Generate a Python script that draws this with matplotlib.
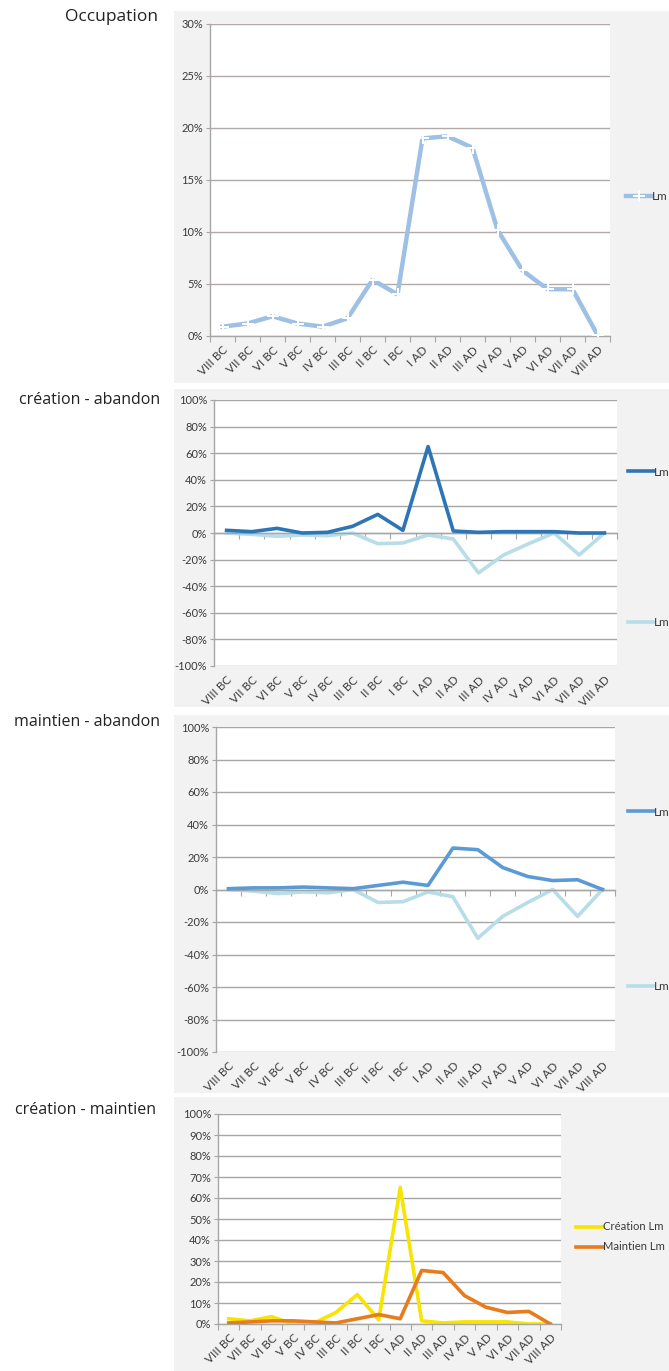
import numpy as np
import matplotlib
matplotlib.use("Agg")
import matplotlib.pyplot as plt
from matplotlib.patches import Rectangle
from matplotlib.ticker import FuncFormatter

categories = ["VIII BC", "VII BC", "VI BC", "V BC", "IV BC", "III BC", "II BC", "I BC",
              "I AD", "II AD", "III AD", "IV AD", "V AD", "VI AD", "VII AD", "VIII AD"]

occupation = [0.9, 1.2, 1.9, 1.2, 0.9, 1.7, 5.4, 4.0, 19.0, 19.2, 18.1, 10.2, 6.3, 4.5, 4.5, 0.1]
creation = [2.0, 1.0, 3.5, 0.0, 0.5, 5.0, 14.0, 2.0, 65.0, 1.5, 0.5, 1.0, 1.0, 1.0, 0.0, 0.0]
abandon = [0.0, -1.0, -2.5, -1.5, -2.0, 0.0, -8.0, -7.5, -1.5, -4.5, -30.0, -16.5, -8.0, 0.0, -16.5, 0.0]
maintien = [0.5, 1.0, 1.0, 1.5, 1.0, 0.5, 2.5, 4.5, 2.5, 25.5, 24.5, 13.5, 8.0, 5.5, 6.0, 0.0]
creation_y = [2.5, 1.5, 3.5, 0.0, 0.5, 5.5, 14.0, 2.0, 65.0, 1.5, 0.5, 1.0, 1.0, 1.0, 0.0, 0.0]
maintien_o = [0.5, 1.0, 1.5, 1.5, 1.0, 0.5, 2.5, 4.5, 2.5, 25.5, 24.5, 13.5, 8.0, 5.5, 6.0, 0.0]

titles = ["Occupation", "création - abandon", "maintien - abandon", "création - maintien"]

W, H = 669, 1371
fig = plt.figure(figsize=(W / 100, H / 100), dpi=100)
fig.patch.set_facecolor("white")

TICKFONT = "Lato"
TITLEFONT = "Open Sans"
GRID = "#a6a6a6"
TXT = "#3a3a3a"

def fbox(l, t, r, b):
    return [l / W, 1 - b / H, (r - l) / W, (b - t) / H]

# grey backgrounds
for (l, t, r, b) in [(174, 11, 669, 383), (174, 389, 669, 707), (174, 715, 669, 1093), (174, 1097, 669, 1371)]:
    fig.patches.append(Rectangle((l / W, 1 - b / H), (r - l) / W, (b - t) / H,
                                 transform=fig.transFigure, facecolor="#f2f2f2",
                                 edgecolor="none", zorder=-5))

x = np.arange(len(categories))
pct = FuncFormatter(lambda v, p: f"{v:.0f}%")

def setup(ax, ylim, ystep, zero_axis, gridcolor=GRID):
    ax.set_zorder(2)
    ax.set_facecolor("white")
    ax.set_xlim(-0.5, len(categories) - 0.5)
    ax.set_ylim(*ylim)
    ax.set_yticks(np.arange(ylim[0], ylim[1] + 0.1, ystep))
    ax.yaxis.set_major_formatter(pct)
    ax.grid(axis="y", color=gridcolor, linewidth=1.0)
    ax.set_axisbelow(True)
    for s in ["top", "right"]:
        ax.spines[s].set_visible(False)
    ax.spines["left"].set_color(GRID)
    ax.spines["bottom"].set_color(GRID)
    ax.spines["left"].set_linewidth(1.0)
    ax.spines["bottom"].set_linewidth(1.0)
    if zero_axis:
        ax.spines["bottom"].set_position(("data", 0))
    ax.set_xticks(np.arange(-0.5, len(categories), 1.0))
    ax.tick_params(axis="x", length=4, color=GRID, labelbottom=False, direction="out")
    ax.tick_params(axis="y", length=3, color=GRID, labelsize=8, pad=2)
    for lab in ax.get_yticklabels():
        lab.set_fontfamily(TICKFONT)
        lab.set_color(TXT)
    sec = ax.secondary_xaxis(0)
    sec.set_xticks(x)
    sec.set_xticklabels(categories, rotation=45, ha="right", rotation_mode="anchor",
                        fontsize=8.5, fontfamily=TICKFONT, color=TXT)
    sec.tick_params(axis="x", length=0, pad=6)
    sec.spines["bottom"].set_visible(False)
    return ax

def leg(ax, handles, labels, xl, yc, size=8.5, hl=2.2, **kw):
    lg = ax.legend(handles, labels, loc="center left", bbox_to_anchor=(xl / W, 1 - yc / H),
                   bbox_transform=fig.transFigure, frameon=False, handlelength=hl,
                   handletextpad=0.0, borderaxespad=0, borderpad=0,
                   prop={"family": TICKFONT, "size": size}, **kw)
    for t in lg.get_texts():
        t.set_color(TXT)
    return lg

# Panel 1
ax1 = fig.add_axes(fbox(210, 24, 610, 336))
setup(ax1, (0, 30), 5, False, gridcolor="#b3a8a8")
l1, = ax1.plot(x, occupation, color="#9dc0e4", linewidth=3.2, marker="+",
               markersize=9, markeredgecolor="white", markeredgewidth=1.4, zorder=3)
leg(ax1, [l1], ["Lm"], 626, 197)

# Panel 2
ax2 = fig.add_axes(fbox(214, 400, 617, 666))
setup(ax2, (-100, 100), 20, True)
l2a, = ax2.plot(x, creation, color="#2e75b6", linewidth=2.6, zorder=3)
l2b, = ax2.plot(x, abandon, color="#b7dde8", linewidth=2.6, zorder=2)
ax2.add_artist(leg(ax2, [l2a], ["Lm"], 628, 472))
leg(ax2, [l2b], ["Lm"], 628, 623)

# Panel 3
ax3 = fig.add_axes(fbox(216, 727, 615, 1052))
setup(ax3, (-100, 100), 20, True)
l3a, = ax3.plot(x, maintien, color="#5b9bd5", linewidth=2.6, zorder=3)
l3b, = ax3.plot(x, abandon, color="#b7dde8", linewidth=2.6, zorder=2)
ax3.add_artist(leg(ax3, [l3a], ["Lm"], 628, 812))
leg(ax3, [l3b], ["Lm"], 628, 987)

# Panel 4
ax4 = fig.add_axes(fbox(218, 1114, 561, 1324))
setup(ax4, (0, 100), 10, False)
l4a, = ax4.plot(x, creation_y, color="#f7e400", linewidth=2.6, zorder=2)
l4b, = ax4.plot(x, maintien_o, color="#e87b1c", linewidth=2.6, zorder=3)
leg(ax4, [l4a, l4b], ["Création Lm", "Maintien Lm"], 576, 1237, size=8.1, hl=2.4,
    labelspacing=0.8)

# Titles
for (t, xr, yc, fs) in [(titles[0], 158, 17, 12.5), (titles[1], 160, 400, 11.5),
                        (titles[2], 160, 722, 11.5), (titles[3], 156, 1110, 11.5)]:
    fig.text(xr / W, 1 - yc / H, t, ha="right", va="center", fontsize=fs,
             fontfamily=TITLEFONT, color="#222222")

fig.savefig("out.png", dpi=100, facecolor=fig.get_facecolor())
